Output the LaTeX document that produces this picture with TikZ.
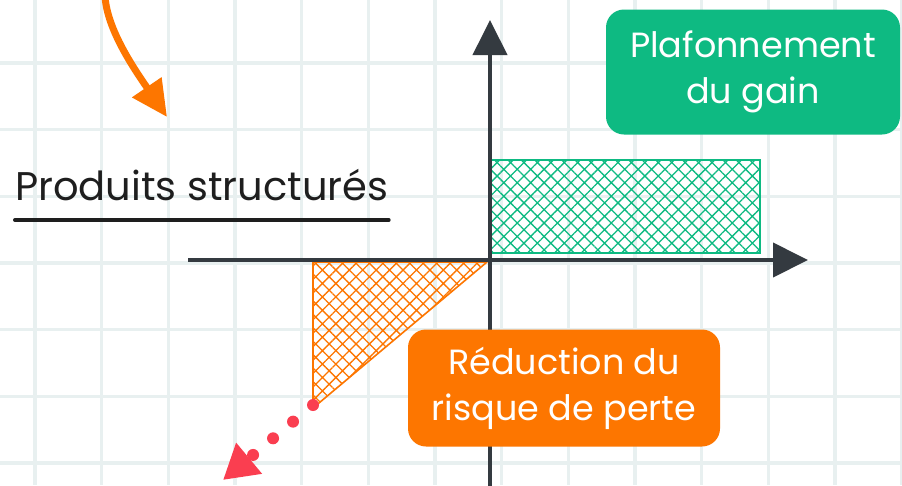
\documentclass[tikz,border=0pt]{standalone}
\usepackage{fontspec}
\setmainfont{Poppins}
\usetikzlibrary{arrows.meta,positioning,patterns.meta}
\definecolor{gridgray}{RGB}{232,240,240}
\definecolor{axisdark}{RGB}{52,58,64}
\definecolor{inkblack}{RGB}{30,30,30}
\definecolor{gaingreen}{RGB}{14,186,130}
\definecolor{lossorange}{RGB}{253,118,0}
\definecolor{dotred}{RGB}{250,62,80}

\begin{document}
\begin{tikzpicture}[x=1pt,y=-1pt,
  labelbox/.style={rounded corners=18pt, text=white, align=center, inner sep=0pt,
    font=\fontsize{35}{46}\selectfont},
  axisline/.style={line width=4pt, draw=axisdark, -{Triangle[length=35pt,width=34pt]}},
  hatchfill/.style={line width=1.6pt, pattern={Hatch[angle=45,distance=9.5pt,line width=1.3pt]}, pattern color=#1}]

% background and grid
\fill[white] (0,0) rectangle (902,485);
\useasboundingbox (0,0) rectangle (902,485);
\foreach \gx in {0,...,13}
  \draw[gridgray, line width=3.5pt] ({35+66.67*\gx},0) -- ({35+66.67*\gx},485);
\foreach \gy in {1,...,7}
  \draw[gridgray, line width=3.5pt] (0,{-3.67+66.67*\gy}) -- (902,{-3.67+66.67*\gy});

% hatched areas
\draw[gaingreen, hatchfill=gaingreen] (491,160) rectangle (760,253);
\draw[lossorange, hatchfill=lossorange, line join=round] (313,262) -- (487,262) -- (313,408) -- cycle;

% axes
\coordinate (xstart) at (188,260);
\coordinate (xend) at (808,260);
\coordinate (ystart) at (490,490);
\coordinate (yend) at (490,20);
\draw[axisline] (xstart) -- (xend);
\draw[axisline] (ystart) -- (yend);

% labels
\node[labelbox, fill=gaingreen, minimum width=294pt, minimum height=125pt] (gain) at (753,72) {Plafonnement\\du gain};
\node[labelbox, fill=lossorange, minimum width=312pt, minimum height=117pt] (loss) at (564,388) {Réduction du\\risque de perte};
\node[anchor=base west, inner sep=0pt, text=inkblack, font=\fontsize{40}{46}\selectfont] (title) at (15,200) {Produits structurés};
\draw[inkblack, line width=4pt, line cap=round] ([yshift=-20pt]title.base west) -- ([yshift=-20pt]title.base east);

% arrows
\coordinate (curvestart) at (105,-4);
\coordinate (curveend) at (167,117);
\draw[lossorange, line width=7pt, -{Triangle[length=36pt,width=34pt]}] (curvestart) .. controls (107,30) and (135,70) .. (curveend);
\coordinate (dotstart) at (313,405);
\coordinate (dotend) at (223,480);
\draw[dotred, line width=12pt, line cap=round, dash pattern=on 0pt off 26pt, -{Triangle[length=34pt,width=38pt]}] (dotstart) -- (dotend);
\end{tikzpicture}
\end{document}
